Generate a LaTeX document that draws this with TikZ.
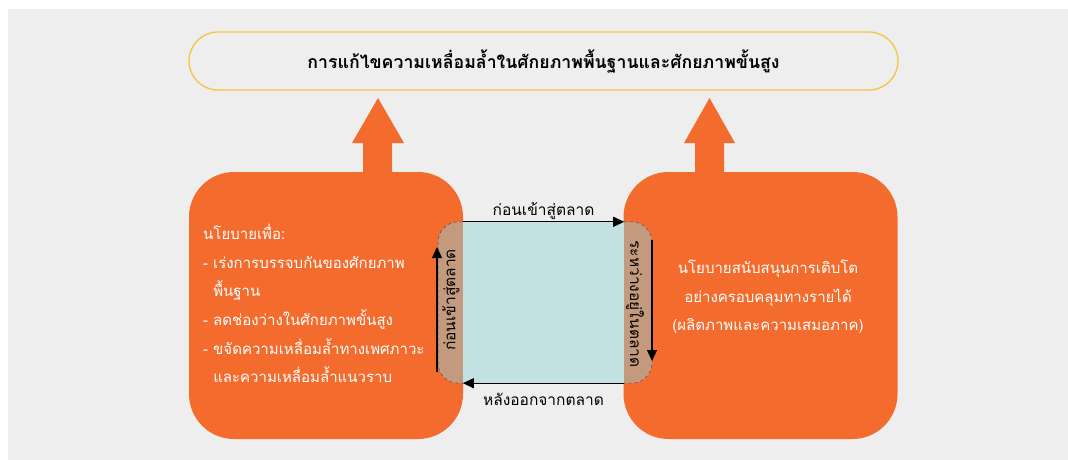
\documentclass[tikz,border=0pt]{standalone}
\usepackage{fontspec}
\newfontfamily\thai[Script=Thai]{Loma}
\usetikzlibrary{arrows.meta}
\definecolor{bgc}{HTML}{EDEEED}
\definecolor{orng}{HTML}{F36C2E}
\definecolor{ylw}{HTML}{F5C542}
\definecolor{bluec}{HTML}{C3E0E3}
\definecolor{brownc}{HTML}{C49A7E}
\tikzset{
  orangebox/.style={fill=orng, draw=none, rounded corners=45pt, minimum width=274pt, minimum height=267pt, inner sep=0pt},
  titlebox/.style={draw=ylw, line width=1.3pt, fill=bgc, rounded corners=29pt, minimum width=709pt, minimum height=58pt},
  arr/.style={draw=black, line width=1.2pt, -{Triangle[length=11pt,width=10pt]}},
  lbl/.style={font=\thai\fontsize{15.5}{18}\selectfont, text=black, inner sep=0pt},
  wtxt/.style={font=\thai\fontsize{15}{28.6}\selectfont, text=white, inner sep=0pt},
  brownside/.style={fill=brownc, draw=black!70, dashed, line width=0.5pt, rounded corners=20pt},
  blockarrow/.style={fill=orng, draw=none}
}
\begin{document}
\begin{tikzpicture}[x=1pt,y=-1pt]
\useasboundingbox (0,0) rectangle (1068,460);
\fill[bgc] (8,9) rectangle (1068,460);

% title
\node[titlebox] (title) at (543.5,61) {};
\node[font=\thai\bfseries\fontsize{17.7}{20}\selectfont, inner sep=0pt] (titletext) at (title.center) {การแก้ไขความเหลื่อมล้ำในศักยภาพพื้นฐานและศักยภาพขั้นสูง};

% orange boxes
\node[orangebox] (L) at (326,305.5) {};
\node[orangebox] (R) at (760.5,305.5) {};

% up block arrows
\fill[blockarrow] (363,176) -- (363,143) -- (352,143) -- (378,98) -- (404,143) -- (392,143) -- (392,176) -- cycle;
\fill[blockarrow] (695,176) -- (695,143) -- (684,143) -- (709.5,98) -- (735,143) -- (724,143) -- (724,176) -- cycle;

% central square and sides
\node[fill=bluec, minimum width=161pt, minimum height=161pt, inner sep=0pt] (mkt) at (543.5,302.5) {};
\path[brownside] (mkt.north west) -- (438,222) -- (438,383) -- (mkt.south west);
\path[brownside] (mkt.north east) -- (652,222) -- (652,383) -- (mkt.south east);

% arrows
\draw[arr] (mkt.north west) -- (mkt.north east);
\draw[arr] (mkt.south east) -- (mkt.south west);
\coordinate (lb) at (437,372);
\coordinate (lt) at (437,247);
\coordinate (rt) at (652,240);
\coordinate (rb) at (652,361);
\draw[arr] (lb) -- (lt);
\draw[arr] (rt) -- (rb);

% labels
\node[lbl] (toplbl) at (543.5,211) {ก่อนเข้าสู่ตลาด};
\node[lbl] (botlbl) at (543.5,399) {หลังออกจากตลาด};
\node[lbl, rotate=90] (leftlbl) at (451,300) {ก่อนเข้าสู่ตลาด};
\node[lbl, rotate=-90] (rightlbl) at (635,304) {ระหว่างอยู่ในตลาด};

% box texts
\node[wtxt, align=left, anchor=west] (ltext) at (203,303.5) {นโยบายเพื่อ:\\
- เร่งการบรรจบกันของศักยภาพ\\
\phantom{-~}พื้นฐาน\\
- ลดช่องว่างในศักยภาพขั้นสูง\\
- ขจัดความเหลื่อมล้ำทางเพศภาวะ\\
\phantom{-~}และความเหลื่อมล้ำแนวราบ};
\node[wtxt, align=center] (rtext) at (768,297) {นโยบายสนับสนุนการเติบโต\\
อย่างครอบคลุมทางรายได้\\
(ผลิตภาพและความเสมอภาค)};
\end{tikzpicture}
\end{document}
